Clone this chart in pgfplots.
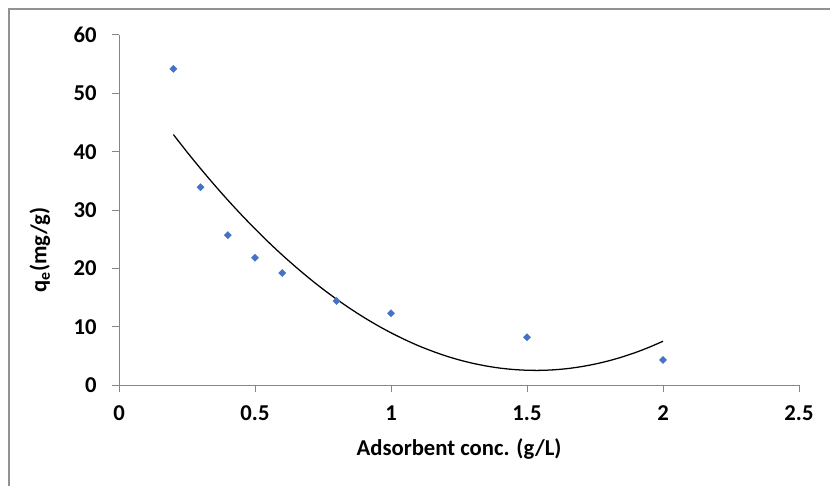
\documentclass[border=0pt]{standalone}
\usepackage{fontspec}
\setmainfont{Carlito}
\usepackage{pgfplots}
\pgfplotsset{compat=1.18}
\definecolor{ptblue}{RGB}{68,114,196}
\definecolor{axgray}{RGB}{134,134,134}
\begin{document}
\begin{tikzpicture}
\useasboundingbox (0,0) rectangle (622.5pt,364.5pt);
\draw[axgray!90, line width=0.9pt] (6.75pt,0pt) -- (6.75pt,357.75pt) -- (622.5pt,357.75pt);
\begin{axis}[
  at={(89.25pt,75.75pt)}, anchor=south west,
  scale only axis, width=510pt, height=262.5pt,
  xmin=0, xmax=2.5, ymin=0, ymax=60,
  xtick={0,0.5,1,1.5,2,2.5},
  ytick={0,10,20,30,40,50,60},
  axis x line=bottom, axis y line=left,
  axis line style={axgray, line width=0.75pt, -},
  tick align=outside,
  major tick length=5.25pt,
  tick style={axgray, line width=0.75pt},
  /pgf/number format/assume math mode=true,
  ticklabel style={font=\bfseries\fontsize{17}{20}\selectfont, text=black},
  xticklabel style={yshift=-7pt},
  yticklabel style={xshift=-8pt},
  clip=false,
]
\addplot[black, line width=0.95pt, smooth] coordinates {
(0.2,42.93)(0.25,39.95)(0.3,37.09)(0.35,34.34)(0.4,31.70)(0.45,29.18)
(0.5,26.77)(0.55,24.47)(0.6,22.29)(0.65,20.23)(0.7,18.27)(0.75,16.43)
(0.8,14.71)(0.85,13.10)(0.9,11.60)(0.95,10.22)(1.0,8.95)(1.05,7.80)
(1.1,6.75)(1.15,5.83)(1.2,5.01)(1.25,4.31)(1.3,3.73)(1.35,3.26)
(1.4,2.90)(1.45,2.66)(1.5,2.53)(1.55,2.51)(1.6,2.61)(1.65,2.82)
(1.7,3.15)(1.75,3.59)(1.8,4.14)(1.85,4.81)(1.9,5.59)(1.95,6.49)(2.0,7.50)
};
\addplot[only marks, mark=square*, mark size=1.85pt, mark options={rotate=45, fill=ptblue, draw=ptblue}] coordinates {
(0.2,54.2)(0.3,33.9)(0.4,25.7)(0.5,21.8)(0.6,19.2)(0.8,14.4)(1.0,12.3)(1.5,8.2)(2.0,4.3)
};
\end{axis}
\node[rotate=90, font=\bfseries\fontsize{17}{20}\selectfont] at (30pt,177pt) {q\textsubscript{e}(mg/g)};
\node[font=\bfseries\fontsize{17}{20}\selectfont] at (344.25pt,27.75pt) {Adsorbent conc. (g/L)};
\end{tikzpicture}
\end{document}
